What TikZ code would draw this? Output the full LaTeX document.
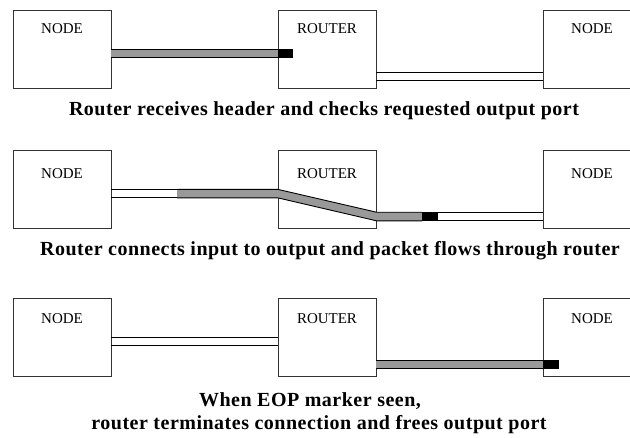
\documentclass[tikz,border=0pt]{standalone}
\usepackage{fontspec}
\setmainfont{Liberation Serif}
\newfontfamily\capfont[LetterSpace=2.5]{Liberation Serif}
\definecolor{flowgray}{RGB}{153,153,153}
\tikzset{
  box/.style={draw=black!80, line width=0.9pt, fill=white,
    minimum width=98pt, minimum height=78pt, inner sep=0pt},
  boxlabel/.style={font=\fontsize{15}{15}\selectfont, anchor=base, inner sep=0pt},
  caption/.style={font=\capfont\bfseries\fontsize{20}{20}\selectfont, anchor=base, inner sep=0pt},
  rail/.style={line width=0.9pt, draw=black},
  flit/.style={fill=flowgray},
  eop/.style={fill=black},
}
\begin{document}
\begin{tikzpicture}[x=1pt,y=-1pt]
\useasboundingbox (0,0) rectangle (630,437);
\fill[white] (0,0) rectangle (630,437);
\clip (0,0) rectangle (630,437);

% ---------- stage 1: header arrives ----------
\node[box] (n1) at (62,49) {};
\node[box] (r1) at (327,49) {};
\node[box] (d1) at (592,49) {};
\coordinate (lb1) at (0,33);
\node[boxlabel] (n1t) at (n1.north |- lb1) {NODE};
\node[boxlabel] (r1t) at (r1.north |- lb1) {ROUTER};
\node[boxlabel] (d1t) at (d1.north |- lb1) {NODE};
\coordinate (u1t) at (0,49.3);  \coordinate (u1b) at (0,57.8);
\coordinate (l1t) at (0,72.2);  \coordinate (l1b) at (0,80.8);
\coordinate (m1) at (293,0);
% packet occupying the input link, header at the router
\fill[flit] (n1.east |- u1t) rectangle (r1.west |- u1b);
\draw[rail] (n1.east |- u1t) -- (r1.west |- u1t);
\draw[rail] (n1.east |- u1b) -- (r1.west |- u1b);
\fill[eop] (r1.west |- u1t) rectangle (m1 |- u1b);
% free output link
\draw[rail] (r1.east |- l1t) -- (d1.west |- l1t);
\draw[rail] (r1.east |- l1b) -- (d1.west |- l1b);
\node[caption] (c1) at (324,115) {Router receives header and checks requested output port};

% ---------- stage 2: packet flows through ----------
\node[box] (n2) at (62,189) {};
\node[box] (r2) at (327,189) {};
\node[box] (d2) at (592,189) {};
\coordinate (lb2) at (0,178.3);
\node[boxlabel] (n2t) at (n2.north |- lb2) {NODE};
\node[boxlabel] (r2t) at (r2.north |- lb2) {ROUTER};
\node[boxlabel] (d2t) at (d2.north |- lb2) {NODE};
\coordinate (u2t) at (0,189.3); \coordinate (u2b) at (0,197.8);
\coordinate (l2t) at (0,212.2); \coordinate (l2b) at (0,220.8);
\coordinate (s2) at (177,0);
\coordinate (k2) at (422,0);
\coordinate (m2) at (438,0);
% emptied part of the input link
\draw[rail] (n2.east |- u2t) -- (s2 |- u2t);
\draw[rail] (n2.east |- u2b) -- (s2 |- u2b);
% packet body routed across the switch
\fill[flit] (s2 |- u2t) -- (r2.west |- u2t) -- (r2.east |- l2t) -- (k2 |- l2t)
  -- (k2 |- l2b) -- (r2.east |- l2b) -- (r2.west |- u2b) -- (s2 |- u2b) -- cycle;
\draw[rail] (s2 |- u2t) -- (r2.west |- u2t) -- (r2.east |- l2t) -- (k2 |- l2t);
\draw[rail] (s2 |- u2b) -- (r2.west |- u2b) -- (r2.east |- l2b) -- (k2 |- l2b);
\fill[eop] (k2 |- l2t) rectangle (m2 |- l2b);
% rest of the output link
\draw[rail] (m2 |- l2t) -- (d2.west |- l2t);
\draw[rail] (m2 |- l2b) -- (d2.west |- l2b);
\node[caption] (c2) at (330,255) {Router connects input to output and packet flows through router};

% ---------- stage 3: end of packet ----------
\node[box] (n3) at (62,337) {};
\node[box] (r3) at (327,337) {};
\node[box] (d3) at (592,337) {};
\coordinate (lb3) at (0,323.3);
\node[boxlabel] (n3t) at (n3.north |- lb3) {NODE};
\node[boxlabel] (r3t) at (r3.north |- lb3) {ROUTER};
\node[boxlabel] (d3t) at (d3.north |- lb3) {NODE};
\coordinate (u3t) at (0,337.3); \coordinate (u3b) at (0,345.8);
\coordinate (l3t) at (0,360.2); \coordinate (l3b) at (0,368.8);
\coordinate (m3) at (559,0);
% released input link
\draw[rail] (n3.east |- u3t) -- (r3.west |- u3t);
\draw[rail] (n3.east |- u3b) -- (r3.west |- u3b);
% packet tail on the output link
\fill[flit] (r3.east |- l3t) rectangle (d3.west |- l3b);
\draw[rail] (r3.east |- l3t) -- (d3.west |- l3t);
\draw[rail] (r3.east |- l3b) -- (d3.west |- l3b);
\fill[eop] (d3.west |- l3t) rectangle (m3 |- l3b);
\node[caption] (c3a) at (310,406.7) {When EOP marker seen,};
\node[caption] (c3b) at (319,429.3) {router terminates connection and frees output port};
\end{tikzpicture}
\end{document}
